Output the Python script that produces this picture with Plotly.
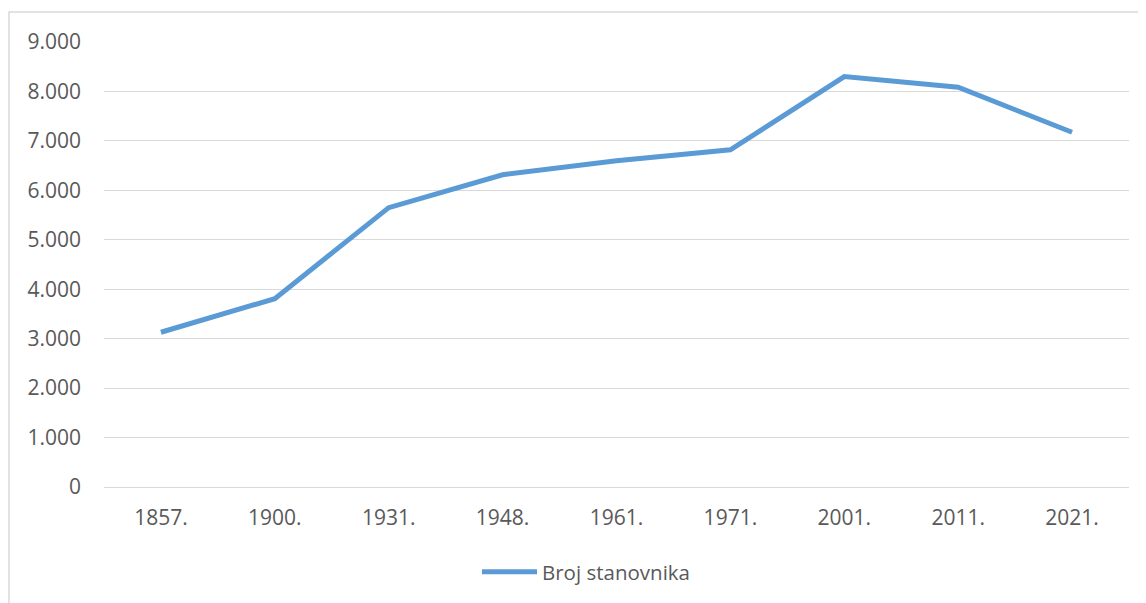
import plotly.graph_objects as go

years = ["1857.", "1900.", "1931.", "1948.", "1961.", "1971.", "2001.", "2011.", "2021."]
population = [3130, 3810, 5650, 6315, 6600, 6820, 8300, 8085, 7175]
series_name = "Broj stanovnika"
y_ticks = [0, 1000, 2000, 3000, 4000, 5000, 6000, 7000, 8000, 9000]

OFF = 8  # page body margin offset
W, H = 1146 - OFF, 603 - OFF
ml, mt = 104 - OFF, 42 - OFF
mr = W - (1129 - OFF)
mb = H - (488 - OFF)
pw = W - ml - mr
ph = H - mt - mb

fig = go.Figure()
fig.add_trace(go.Scatter(
    x=years, y=population, mode="lines", name=series_name,
    line=dict(color="#5B9BD5", width=5),
))

font_family = "Open Sans"
fig.update_layout(
    width=W, height=H,
    margin=dict(l=ml, r=mr, t=mt, b=mb),
    paper_bgcolor="white", plot_bgcolor="white",
    separators=",.",
    font=dict(family=font_family, size=21, color="#595959"),
    showlegend=True,
    legend=dict(orientation="h", x=(586 - 104) / pw, xanchor="center",
                y=((488 - 572) / ph), yanchor="middle", itemwidth=55,
                font=dict(family=font_family, size=20.5, color="#595959")),
    xaxis=dict(type="category", range=[-0.5, len(years) - 0.5],
               showgrid=False, zeroline=False, showline=False,
               ticks="", tickfont=dict(size=21), ticklabelstandoff=16),
    yaxis=dict(range=[0, 9000], tickvals=y_ticks, tickformat=",d",
               showgrid=True, gridcolor="#d9d9d9", gridwidth=1,
               zeroline=True, zerolinecolor="#d9d9d9", zerolinewidth=1,
               showline=False, ticks="", tickfont=dict(size=21),
               ticklabelstandoff=22),
)

# outer chart border
fig.add_shape(type="rect", xref="paper", yref="paper",
              x0=(9 - OFF - ml) / pw, x1=(W + 5 - ml) / pw,
              y0=-(H + 5 - (mt + ph)) / ph, y1=(mt + ph - (12 - OFF)) / ph,
              line=dict(color="#d9d9d9", width=1.5), fillcolor="rgba(0,0,0,0)",
              layer="below")

fig.write_html("out.html")
